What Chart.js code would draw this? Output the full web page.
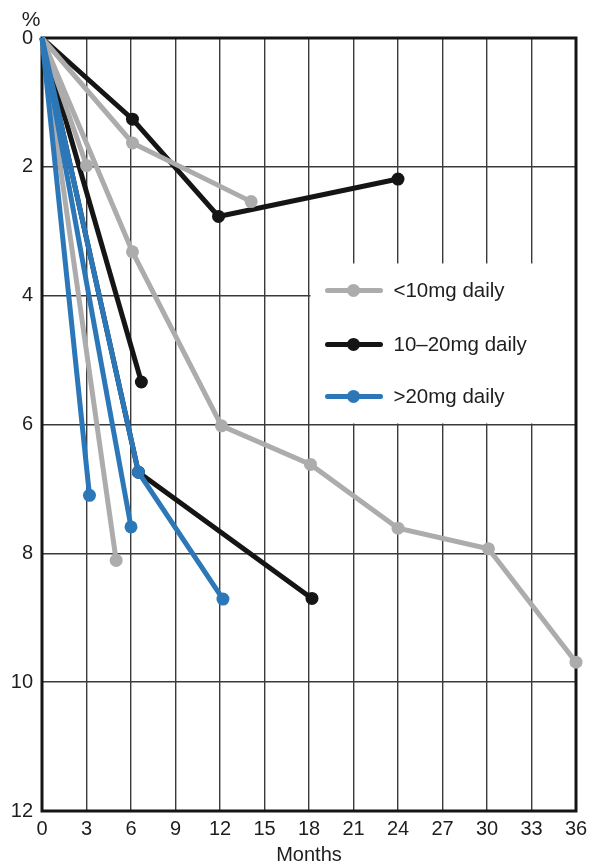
<!DOCTYPE html>
<html>
<head>
<meta charset="utf-8">
<script src="https://cdn.jsdelivr.net/npm/chart.js@4/dist/chart.umd.min.js"></script>
<style>
  html, body { margin: 0; padding: 0; background: #ffffff; }
  #c { display: block; }
</style>
</head>
<body>
<canvas id="c" width="598" height="867"></canvas>
<script>
// ---- Data (months on x, % on y) ----
const groupLabels = ['<10mg daily', '10\u201320mg daily', '>20mg daily'];
const xTicks = [0, 3, 6, 9, 12, 15, 18, 21, 24, 27, 30, 33, 36];
const yTicks = [0, 2, 4, 6, 8, 10, 12];

// <10mg daily (gray)
const low1Months = [0, 6.1, 14.1];
const low1Pct    = [0, 1.63, 2.54];
const low2Months = [0, 3.0];
const low2Pct    = [0, 1.98];
const low3Months = [0, 6.1, 12.1, 18.1, 24.0, 30.1, 36.0];
const low3Pct    = [0, 3.32, 6.02, 6.62, 7.61, 7.93, 9.69];
const low4Months = [0, 5.0];
const low4Pct    = [0, 8.11];

// 10–20mg daily (black)
const mid1Months = [0, 6.1, 11.9, 24.0];
const mid1Pct    = [0, 1.26, 2.77, 2.19];
const mid2Months = [0, 6.7];
const mid2Pct    = [0, 5.34];
const mid3Months = [0, 6.5, 18.2];
const mid3Pct    = [0, 6.74, 8.70];

// >20mg daily (blue)
const high1Months = [0, 3.2];
const high1Pct    = [0, 7.10];
const high2Months = [0, 6.0];
const high2Pct    = [0, 7.59];
const high3Months = [0, 6.5, 12.2];
const high3Pct    = [0, 6.74, 8.71];

// ---- Styles ----
const GRAY = '#acacac', BLACK = '#151515', BLUE = '#2b77b8';
const FONT = "'Liberation Sans', Arial, Helvetica, sans-serif";

function pts(xs, ys) { return xs.map((x, i) => ({ x: x, y: ys[i] })); }
function ds(xs, ys, color, order) {
  return {
    data: pts(xs, ys),
    showLine: true,
    borderColor: color,
    backgroundColor: color,
    borderWidth: 5,
    pointRadius: (c) => c.dataIndex === 0 ? 0 : 6.5,
    pointBorderWidth: 0,
    pointHoverRadius: 6.5,
    order: order,
    clip: false,
    tension: 0
  };
}

const datasets = [
  ds(high1Months, high1Pct, BLUE, 0),
  ds(high2Months, high2Pct, BLUE, 0),
  ds(high3Months, high3Pct, BLUE, 0),
  ds(low1Months, low1Pct, GRAY, 1),
  ds(low2Months, low2Pct, GRAY, 1),
  ds(low3Months, low3Pct, GRAY, 1),
  ds(low4Months, low4Pct, GRAY, 1),
  ds(mid1Months, mid1Pct, BLACK, 2),
  ds(mid2Months, mid2Pct, BLACK, 2),
  ds(mid3Months, mid3Pct, BLACK, 2)
];

const legendColors = [GRAY, BLACK, BLUE];

const framePlugin = {
  id: 'frameAndLegend',
  beforeDatasetsDraw(chart) {
    const ctx = chart.ctx;
    const a = chart.chartArea;
    const xs = chart.scales.x, ys = chart.scales.y;
    ctx.save();
    // legend box (white, covers grid)
    const bx = xs.getPixelForValue(18) + 1.5;
    const by = ys.getPixelForValue(3.5);
    const bb = ys.getPixelForValue(6) - 1;
    ctx.fillStyle = '#ffffff';
    ctx.fillRect(bx, by, a.right - bx, bb - by);
    // frame
    ctx.strokeStyle = '#151515';
    ctx.lineWidth = 3;
    ctx.strokeRect(a.left, a.top, a.right - a.left, a.bottom - a.top);
    // legend entries
    const rowOffsets = [27, 81, 133];
    groupLabels.forEach((lab, i) => {
      const yy = by + rowOffsets[i];
      ctx.strokeStyle = legendColors[i];
      ctx.lineWidth = 5;
      ctx.lineCap = 'round';
      ctx.beginPath();
      ctx.moveTo(bx + 17, yy);
      ctx.lineTo(bx + 70, yy);
      ctx.stroke();
      ctx.fillStyle = legendColors[i];
      ctx.beginPath();
      ctx.arc(bx + 43, yy, 6.5, 0, Math.PI * 2);
      ctx.fill();
      ctx.fillStyle = '#1e1e1e';
      ctx.font = '20.5px ' + FONT;
      ctx.textBaseline = 'middle';
      ctx.textAlign = 'left';
      ctx.fillText(lab, bx + 83, yy + 1);
    });
    // % unit label
    ctx.fillStyle = '#1e1e1e';
    ctx.font = '21px ' + FONT;
    ctx.textAlign = 'center';
    ctx.textBaseline = 'middle';
    ctx.fillText('%', 31, 20);
    ctx.restore();
  }
};

new Chart(document.getElementById('c'), {
  type: 'scatter',
  data: { datasets: datasets },
  options: {
    responsive: false,
    animation: false,
    devicePixelRatio: 1,
    layout: { padding: { top: 38, right: 22, left: 0, bottom: 0 } },
    plugins: { legend: { display: false }, tooltip: { enabled: false } },
    scales: {
      x: {
        type: 'linear',
        min: 0, max: 36,
        afterBuildTicks: (s) => { s.ticks = xTicks.map(v => ({ value: v })); },
        afterFit: (s) => { s.height = 56; },
        ticks: { color: '#1e1e1e', font: { family: FONT, size: 20 }, padding: 6, maxRotation: 0, autoSkip: false },
        grid: { color: '#3a3a3a', lineWidth: 1.4, drawTicks: false },
        border: { display: false },
        title: { display: true, text: 'Months', color: '#1e1e1e', font: { family: FONT, size: 20 }, padding: { top: 0, bottom: 0 } }
      },
      y: {
        type: 'linear',
        reverse: true,
        min: 0, max: 12,
        afterBuildTicks: (s) => { s.ticks = yTicks.map(v => ({ value: v })); },
        afterFit: (s) => { s.width = 42; },
        ticks: { color: '#1e1e1e', font: { family: FONT, size: 20 }, padding: 9, autoSkip: false },
        grid: { color: '#3a3a3a', lineWidth: 1.4, drawTicks: false },
        border: { display: false }
      }
    }
  },
  plugins: [framePlugin]
});
</script>
</body>
</html>
